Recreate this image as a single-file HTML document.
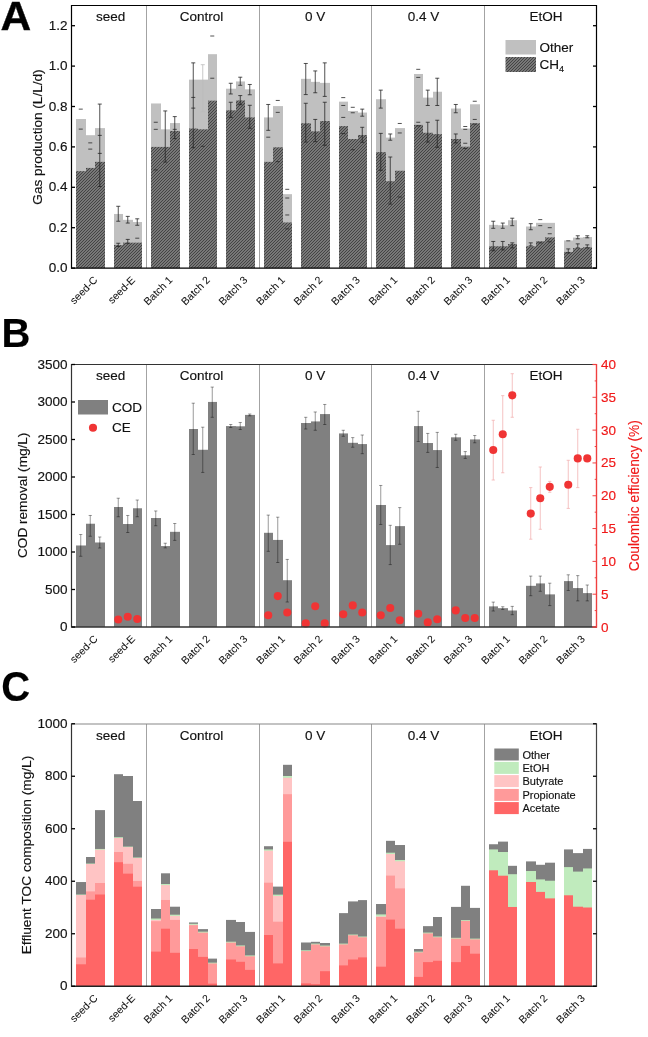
<!DOCTYPE html>
<html><head><meta charset="utf-8"><title>Figure</title><style>html,body{margin:0;padding:0;background:#fff;width:648px;height:1037px;overflow:hidden}svg{display:block;will-change:transform} text{stroke:currentColor}</style></head><body>
<svg width="648" height="1037" viewBox="0 0 648 1037">
<defs><pattern id="hatch" patternUnits="userSpaceOnUse" x="0" y="0" width="3" height="3"><rect width="3" height="3" fill="#787878"/><rect x="0" y="2" width="1" height="1" fill="#444444"/><rect x="1" y="1" width="1" height="1" fill="#444444"/><rect x="2" y="0" width="1" height="1" fill="#444444"/></pattern></defs>
<rect width="648" height="1037" fill="#fff"/>
<g font-family='"Liberation Sans", sans-serif' fill="#111" color="#111" stroke-width="0.15">
<text transform="translate(0.5 29.6) scale(1.063 1.032)" x="0" y="0" font-size="40" font-weight="bold" fill="#000" stroke="#000" stroke-width="0.4">A</text>
<line x1="146.5" y1="5.5" x2="146.5" y2="268.1" stroke="#999" stroke-width="0.9"/>
<line x1="259.5" y1="5.5" x2="259.5" y2="268.1" stroke="#999" stroke-width="0.9"/>
<line x1="371.5" y1="5.5" x2="371.5" y2="268.1" stroke="#999" stroke-width="0.9"/>
<line x1="484.5" y1="5.5" x2="484.5" y2="268.1" stroke="#999" stroke-width="0.9"/>
<rect x="76" y="119.02" width="10" height="149.08" fill="#c0c0c0"/>
<rect x="76" y="171.14" width="10" height="96.96" fill="url(#hatch)"/>
<rect x="86" y="135.18" width="9" height="132.92" fill="#c0c0c0"/>
<rect x="86" y="167.91" width="9" height="100.19" fill="url(#hatch)"/>
<rect x="95" y="128.11" width="10" height="139.99" fill="#c0c0c0"/>
<rect x="95" y="161.85" width="10" height="106.25" fill="url(#hatch)"/>
<rect x="114" y="213.96" width="9" height="54.14" fill="#c0c0c0"/>
<rect x="114" y="245.07" width="9" height="23.03" fill="url(#hatch)"/>
<rect x="123" y="219.82" width="10" height="48.28" fill="#c0c0c0"/>
<rect x="123" y="242.65" width="10" height="25.45" fill="url(#hatch)"/>
<rect x="133" y="222.04" width="9" height="46.06" fill="#c0c0c0"/>
<rect x="133" y="242.65" width="9" height="25.45" fill="url(#hatch)"/>
<rect x="151" y="103.47" width="10" height="164.63" fill="#c0c0c0"/>
<rect x="151" y="146.9" width="10" height="121.2" fill="url(#hatch)"/>
<rect x="161" y="129.33" width="9" height="138.77" fill="#c0c0c0"/>
<rect x="161" y="146.9" width="9" height="121.2" fill="url(#hatch)"/>
<rect x="170" y="123.06" width="10" height="145.04" fill="#c0c0c0"/>
<rect x="170" y="130.94" width="10" height="137.16" fill="url(#hatch)"/>
<rect x="189" y="79.63" width="9" height="188.47" fill="#c0c0c0"/>
<rect x="189" y="128.52" width="9" height="139.58" fill="url(#hatch)"/>
<rect x="198" y="79.63" width="10" height="188.47" fill="#c0c0c0"/>
<rect x="198" y="129.33" width="10" height="138.77" fill="url(#hatch)"/>
<rect x="208" y="54.18" width="9" height="213.92" fill="#c0c0c0"/>
<rect x="208" y="100.64" width="9" height="167.46" fill="url(#hatch)"/>
<rect x="226" y="88.72" width="10" height="179.38" fill="#c0c0c0"/>
<rect x="226" y="110.34" width="10" height="157.76" fill="url(#hatch)"/>
<rect x="236" y="81.45" width="9" height="186.65" fill="#c0c0c0"/>
<rect x="236" y="100.44" width="9" height="167.66" fill="url(#hatch)"/>
<rect x="245" y="89.33" width="10" height="178.77" fill="#c0c0c0"/>
<rect x="245" y="117.41" width="10" height="150.69" fill="url(#hatch)"/>
<rect x="264" y="117.41" width="9" height="150.69" fill="#c0c0c0"/>
<rect x="264" y="161.85" width="9" height="106.25" fill="url(#hatch)"/>
<rect x="273" y="106.1" width="10" height="162" fill="#c0c0c0"/>
<rect x="273" y="147.3" width="10" height="120.8" fill="url(#hatch)"/>
<rect x="283" y="194.17" width="9" height="73.93" fill="#c0c0c0"/>
<rect x="283" y="222.45" width="9" height="45.65" fill="url(#hatch)"/>
<rect x="301" y="78.83" width="10" height="189.27" fill="#c0c0c0"/>
<rect x="301" y="123.27" width="10" height="144.83" fill="url(#hatch)"/>
<rect x="311" y="81.86" width="9" height="186.24" fill="#c0c0c0"/>
<rect x="311" y="131.35" width="9" height="136.75" fill="url(#hatch)"/>
<rect x="320" y="82.87" width="10" height="185.23" fill="#c0c0c0"/>
<rect x="320" y="121.04" width="10" height="147.06" fill="url(#hatch)"/>
<rect x="339" y="101.65" width="9" height="166.45" fill="#c0c0c0"/>
<rect x="339" y="126.09" width="9" height="142.01" fill="url(#hatch)"/>
<rect x="348" y="110.94" width="10" height="157.16" fill="#c0c0c0"/>
<rect x="348" y="139.02" width="10" height="129.08" fill="url(#hatch)"/>
<rect x="358" y="112.56" width="9" height="155.54" fill="#c0c0c0"/>
<rect x="358" y="134.98" width="9" height="133.12" fill="url(#hatch)"/>
<rect x="376" y="99.23" width="10" height="168.87" fill="#c0c0c0"/>
<rect x="376" y="152.15" width="10" height="115.95" fill="url(#hatch)"/>
<rect x="386" y="137.61" width="9" height="130.49" fill="#c0c0c0"/>
<rect x="386" y="181.24" width="9" height="86.86" fill="url(#hatch)"/>
<rect x="395" y="128.11" width="10" height="139.99" fill="#c0c0c0"/>
<rect x="395" y="170.74" width="10" height="97.36" fill="url(#hatch)"/>
<rect x="414" y="73.98" width="9" height="194.12" fill="#c0c0c0"/>
<rect x="414" y="124.88" width="9" height="143.22" fill="url(#hatch)"/>
<rect x="423" y="97.61" width="10" height="170.49" fill="#c0c0c0"/>
<rect x="423" y="132.76" width="10" height="135.34" fill="url(#hatch)"/>
<rect x="433" y="91.75" width="9" height="176.35" fill="#c0c0c0"/>
<rect x="433" y="134.17" width="9" height="133.93" fill="url(#hatch)"/>
<rect x="451" y="108.52" width="10" height="159.58" fill="#c0c0c0"/>
<rect x="451" y="139.02" width="10" height="129.08" fill="url(#hatch)"/>
<rect x="461" y="128.52" width="9" height="139.58" fill="#c0c0c0"/>
<rect x="461" y="146.7" width="9" height="121.4" fill="url(#hatch)"/>
<rect x="470" y="104.28" width="10" height="163.82" fill="#c0c0c0"/>
<rect x="470" y="123.27" width="10" height="144.83" fill="url(#hatch)"/>
<rect x="489" y="224.87" width="9" height="43.23" fill="#c0c0c0"/>
<rect x="489" y="246.28" width="9" height="21.82" fill="url(#hatch)"/>
<rect x="498" y="225.28" width="10" height="42.82" fill="#c0c0c0"/>
<rect x="498" y="246.28" width="10" height="21.82" fill="url(#hatch)"/>
<rect x="508" y="220.23" width="9" height="47.87" fill="#c0c0c0"/>
<rect x="508" y="244.06" width="9" height="24.04" fill="url(#hatch)"/>
<rect x="526" y="226.49" width="10" height="41.61" fill="#c0c0c0"/>
<rect x="526" y="246.28" width="10" height="21.82" fill="url(#hatch)"/>
<rect x="536" y="222.85" width="9" height="45.25" fill="#c0c0c0"/>
<rect x="536" y="241.23" width="9" height="26.87" fill="url(#hatch)"/>
<rect x="545" y="222.85" width="10" height="45.25" fill="#c0c0c0"/>
<rect x="545" y="237.4" width="10" height="30.7" fill="url(#hatch)"/>
<rect x="564" y="240.43" width="9" height="27.67" fill="#c0c0c0"/>
<rect x="564" y="251.94" width="9" height="16.16" fill="url(#hatch)"/>
<rect x="573" y="237.6" width="10" height="30.5" fill="#c0c0c0"/>
<rect x="573" y="248.1" width="10" height="20" fill="url(#hatch)"/>
<rect x="583" y="236.99" width="9" height="31.11" fill="#c0c0c0"/>
<rect x="583" y="247.29" width="9" height="20.81" fill="url(#hatch)"/>
<line x1="78.75" y1="109.13" x2="82.75" y2="109.13" stroke="#262626" stroke-width="0.8"/>
<line x1="78.75" y1="129.12" x2="82.75" y2="129.12" stroke="#262626" stroke-width="0.8"/>
<line x1="88.25" y1="142.86" x2="92.25" y2="142.86" stroke="#262626" stroke-width="0.8"/>
<line x1="88.25" y1="149.12" x2="92.25" y2="149.12" stroke="#262626" stroke-width="0.8"/>
<line x1="99.75" y1="104.08" x2="99.75" y2="186.49" stroke="#262626" stroke-width="0.8"/>
<line x1="97.75" y1="104.08" x2="101.75" y2="104.08" stroke="#262626" stroke-width="0.8"/>
<line x1="97.75" y1="186.49" x2="101.75" y2="186.49" stroke="#262626" stroke-width="0.8"/>
<line x1="97.75" y1="135.39" x2="101.75" y2="135.39" stroke="#262626" stroke-width="0.8"/>
<line x1="97.75" y1="153.36" x2="101.75" y2="153.36" stroke="#262626" stroke-width="0.8"/>
<line x1="118.25" y1="206.29" x2="118.25" y2="221.24" stroke="#262626" stroke-width="0.8"/>
<line x1="116.25" y1="206.29" x2="120.25" y2="206.29" stroke="#262626" stroke-width="0.8"/>
<line x1="116.25" y1="221.24" x2="120.25" y2="221.24" stroke="#262626" stroke-width="0.8"/>
<line x1="118.25" y1="243.25" x2="118.25" y2="246.49" stroke="#262626" stroke-width="0.8"/>
<line x1="116.25" y1="243.25" x2="120.25" y2="243.25" stroke="#262626" stroke-width="0.8"/>
<line x1="116.25" y1="246.49" x2="120.25" y2="246.49" stroke="#262626" stroke-width="0.8"/>
<line x1="127.75" y1="216.39" x2="127.75" y2="223.05" stroke="#262626" stroke-width="0.8"/>
<line x1="125.75" y1="216.39" x2="129.75" y2="216.39" stroke="#262626" stroke-width="0.8"/>
<line x1="125.75" y1="223.05" x2="129.75" y2="223.05" stroke="#262626" stroke-width="0.8"/>
<line x1="127.75" y1="239.42" x2="127.75" y2="243.25" stroke="#262626" stroke-width="0.8"/>
<line x1="125.75" y1="239.42" x2="129.75" y2="239.42" stroke="#262626" stroke-width="0.8"/>
<line x1="125.75" y1="243.25" x2="129.75" y2="243.25" stroke="#262626" stroke-width="0.8"/>
<line x1="137.25" y1="218.81" x2="137.25" y2="225.28" stroke="#262626" stroke-width="0.8"/>
<line x1="135.25" y1="218.81" x2="139.25" y2="218.81" stroke="#262626" stroke-width="0.8"/>
<line x1="135.25" y1="225.28" x2="139.25" y2="225.28" stroke="#262626" stroke-width="0.8"/>
<line x1="135.25" y1="238.2" x2="139.25" y2="238.2" stroke="#262626" stroke-width="0.8"/>
<line x1="153.75" y1="122.26" x2="157.75" y2="122.26" stroke="#262626" stroke-width="0.8"/>
<line x1="153.75" y1="129.33" x2="157.75" y2="129.33" stroke="#262626" stroke-width="0.8"/>
<line x1="153.75" y1="169.93" x2="157.75" y2="169.93" stroke="#262626" stroke-width="0.8"/>
<line x1="165.25" y1="110.94" x2="165.25" y2="162.05" stroke="#262626" stroke-width="0.8"/>
<line x1="163.25" y1="110.94" x2="167.25" y2="110.94" stroke="#262626" stroke-width="0.8"/>
<line x1="163.25" y1="162.05" x2="167.25" y2="162.05" stroke="#262626" stroke-width="0.8"/>
<line x1="174.75" y1="116.6" x2="174.75" y2="138.62" stroke="#262626" stroke-width="0.8"/>
<line x1="172.75" y1="116.6" x2="176.75" y2="116.6" stroke="#262626" stroke-width="0.8"/>
<line x1="172.75" y1="138.62" x2="176.75" y2="138.62" stroke="#262626" stroke-width="0.8"/>
<line x1="172.75" y1="129.33" x2="176.75" y2="129.33" stroke="#262626" stroke-width="0.8"/>
<line x1="193.25" y1="62.87" x2="193.25" y2="147.71" stroke="#262626" stroke-width="0.8"/>
<line x1="191.25" y1="62.87" x2="195.25" y2="62.87" stroke="#262626" stroke-width="0.8"/>
<line x1="191.25" y1="147.71" x2="195.25" y2="147.71" stroke="#262626" stroke-width="0.8"/>
<line x1="191.25" y1="97.41" x2="195.25" y2="97.41" stroke="#262626" stroke-width="0.8"/>
<line x1="191.25" y1="108.12" x2="195.25" y2="108.12" stroke="#262626" stroke-width="0.8"/>
<line x1="202.75" y1="64.69" x2="202.75" y2="111.55" stroke="#bbb" stroke-width="0.8"/>
<line x1="200.75" y1="64.69" x2="204.75" y2="64.69" stroke="#bbb" stroke-width="0.8"/>
<line x1="200.75" y1="111.55" x2="204.75" y2="111.55" stroke="#bbb" stroke-width="0.8"/>
<line x1="200.75" y1="146.29" x2="204.75" y2="146.29" stroke="#262626" stroke-width="0.8"/>
<line x1="210.25" y1="36" x2="214.25" y2="36" stroke="#262626" stroke-width="0.8"/>
<line x1="210.25" y1="78.22" x2="214.25" y2="78.22" stroke="#262626" stroke-width="0.8"/>
<line x1="230.75" y1="83.27" x2="230.75" y2="93.98" stroke="#262626" stroke-width="0.8"/>
<line x1="228.75" y1="83.27" x2="232.75" y2="83.27" stroke="#262626" stroke-width="0.8"/>
<line x1="228.75" y1="93.98" x2="232.75" y2="93.98" stroke="#262626" stroke-width="0.8"/>
<line x1="230.75" y1="102.26" x2="230.75" y2="117.41" stroke="#262626" stroke-width="0.8"/>
<line x1="228.75" y1="102.26" x2="232.75" y2="102.26" stroke="#262626" stroke-width="0.8"/>
<line x1="228.75" y1="117.41" x2="232.75" y2="117.41" stroke="#262626" stroke-width="0.8"/>
<line x1="240.25" y1="77.21" x2="240.25" y2="85.29" stroke="#262626" stroke-width="0.8"/>
<line x1="238.25" y1="77.21" x2="242.25" y2="77.21" stroke="#262626" stroke-width="0.8"/>
<line x1="238.25" y1="85.29" x2="242.25" y2="85.29" stroke="#262626" stroke-width="0.8"/>
<line x1="240.25" y1="95.59" x2="240.25" y2="104.68" stroke="#262626" stroke-width="0.8"/>
<line x1="238.25" y1="95.59" x2="242.25" y2="95.59" stroke="#262626" stroke-width="0.8"/>
<line x1="238.25" y1="104.68" x2="242.25" y2="104.68" stroke="#262626" stroke-width="0.8"/>
<line x1="249.75" y1="84.48" x2="249.75" y2="94.78" stroke="#262626" stroke-width="0.8"/>
<line x1="247.75" y1="84.48" x2="251.75" y2="84.48" stroke="#262626" stroke-width="0.8"/>
<line x1="247.75" y1="94.78" x2="251.75" y2="94.78" stroke="#262626" stroke-width="0.8"/>
<line x1="249.75" y1="105.29" x2="249.75" y2="128.32" stroke="#262626" stroke-width="0.8"/>
<line x1="247.75" y1="105.29" x2="251.75" y2="105.29" stroke="#262626" stroke-width="0.8"/>
<line x1="247.75" y1="128.32" x2="251.75" y2="128.32" stroke="#262626" stroke-width="0.8"/>
<line x1="268.25" y1="104.48" x2="268.25" y2="130.34" stroke="#262626" stroke-width="0.8"/>
<line x1="266.25" y1="104.48" x2="270.25" y2="104.48" stroke="#262626" stroke-width="0.8"/>
<line x1="266.25" y1="130.34" x2="270.25" y2="130.34" stroke="#262626" stroke-width="0.8"/>
<line x1="266.25" y1="137.2" x2="270.25" y2="137.2" stroke="#262626" stroke-width="0.8"/>
<line x1="275.75" y1="100.44" x2="279.75" y2="100.44" stroke="#262626" stroke-width="0.8"/>
<line x1="275.75" y1="112.36" x2="279.75" y2="112.36" stroke="#262626" stroke-width="0.8"/>
<line x1="275.75" y1="161.65" x2="279.75" y2="161.65" stroke="#262626" stroke-width="0.8"/>
<line x1="285.25" y1="189.32" x2="289.25" y2="189.32" stroke="#262626" stroke-width="0.8"/>
<line x1="285.25" y1="198.01" x2="289.25" y2="198.01" stroke="#262626" stroke-width="0.8"/>
<line x1="285.25" y1="214.97" x2="289.25" y2="214.97" stroke="#262626" stroke-width="0.8"/>
<line x1="285.25" y1="228.91" x2="289.25" y2="228.91" stroke="#262626" stroke-width="0.8"/>
<line x1="305.75" y1="63.47" x2="305.75" y2="94.58" stroke="#262626" stroke-width="0.8"/>
<line x1="303.75" y1="63.47" x2="307.75" y2="63.47" stroke="#262626" stroke-width="0.8"/>
<line x1="303.75" y1="94.58" x2="307.75" y2="94.58" stroke="#262626" stroke-width="0.8"/>
<line x1="305.75" y1="103.27" x2="305.75" y2="142.05" stroke="#262626" stroke-width="0.8"/>
<line x1="303.75" y1="103.27" x2="307.75" y2="103.27" stroke="#262626" stroke-width="0.8"/>
<line x1="303.75" y1="142.05" x2="307.75" y2="142.05" stroke="#262626" stroke-width="0.8"/>
<line x1="315.25" y1="70.95" x2="315.25" y2="92.76" stroke="#262626" stroke-width="0.8"/>
<line x1="313.25" y1="70.95" x2="317.25" y2="70.95" stroke="#262626" stroke-width="0.8"/>
<line x1="313.25" y1="92.76" x2="317.25" y2="92.76" stroke="#262626" stroke-width="0.8"/>
<line x1="315.25" y1="119.43" x2="315.25" y2="141.65" stroke="#262626" stroke-width="0.8"/>
<line x1="313.25" y1="119.43" x2="317.25" y2="119.43" stroke="#262626" stroke-width="0.8"/>
<line x1="313.25" y1="141.65" x2="317.25" y2="141.65" stroke="#262626" stroke-width="0.8"/>
<line x1="324.75" y1="62.87" x2="324.75" y2="96.4" stroke="#262626" stroke-width="0.8"/>
<line x1="322.75" y1="62.87" x2="326.75" y2="62.87" stroke="#262626" stroke-width="0.8"/>
<line x1="322.75" y1="96.4" x2="326.75" y2="96.4" stroke="#262626" stroke-width="0.8"/>
<line x1="324.75" y1="102.26" x2="324.75" y2="145.28" stroke="#262626" stroke-width="0.8"/>
<line x1="322.75" y1="102.26" x2="326.75" y2="102.26" stroke="#262626" stroke-width="0.8"/>
<line x1="322.75" y1="145.28" x2="326.75" y2="145.28" stroke="#262626" stroke-width="0.8"/>
<line x1="341.25" y1="97.61" x2="345.25" y2="97.61" stroke="#262626" stroke-width="0.8"/>
<line x1="341.25" y1="105.49" x2="345.25" y2="105.49" stroke="#262626" stroke-width="0.8"/>
<line x1="341.25" y1="117.41" x2="345.25" y2="117.41" stroke="#262626" stroke-width="0.8"/>
<line x1="341.25" y1="133.57" x2="345.25" y2="133.57" stroke="#262626" stroke-width="0.8"/>
<line x1="350.75" y1="107.31" x2="354.75" y2="107.31" stroke="#262626" stroke-width="0.8"/>
<line x1="350.75" y1="112.76" x2="354.75" y2="112.76" stroke="#262626" stroke-width="0.8"/>
<line x1="350.75" y1="149.73" x2="354.75" y2="149.73" stroke="#262626" stroke-width="0.8"/>
<line x1="362.25" y1="109.13" x2="362.25" y2="116.2" stroke="#262626" stroke-width="0.8"/>
<line x1="360.25" y1="109.13" x2="364.25" y2="109.13" stroke="#262626" stroke-width="0.8"/>
<line x1="360.25" y1="116.2" x2="364.25" y2="116.2" stroke="#262626" stroke-width="0.8"/>
<line x1="362.25" y1="127.31" x2="362.25" y2="142.25" stroke="#262626" stroke-width="0.8"/>
<line x1="360.25" y1="127.31" x2="364.25" y2="127.31" stroke="#262626" stroke-width="0.8"/>
<line x1="360.25" y1="142.25" x2="364.25" y2="142.25" stroke="#262626" stroke-width="0.8"/>
<line x1="380.75" y1="90.14" x2="380.75" y2="108.12" stroke="#262626" stroke-width="0.8"/>
<line x1="378.75" y1="90.14" x2="382.75" y2="90.14" stroke="#262626" stroke-width="0.8"/>
<line x1="378.75" y1="108.12" x2="382.75" y2="108.12" stroke="#262626" stroke-width="0.8"/>
<line x1="380.75" y1="133.37" x2="380.75" y2="170.33" stroke="#262626" stroke-width="0.8"/>
<line x1="378.75" y1="133.37" x2="382.75" y2="133.37" stroke="#262626" stroke-width="0.8"/>
<line x1="378.75" y1="170.33" x2="382.75" y2="170.33" stroke="#262626" stroke-width="0.8"/>
<line x1="390.25" y1="133.97" x2="390.25" y2="140.23" stroke="#262626" stroke-width="0.8"/>
<line x1="388.25" y1="133.97" x2="392.25" y2="133.97" stroke="#262626" stroke-width="0.8"/>
<line x1="388.25" y1="140.23" x2="392.25" y2="140.23" stroke="#262626" stroke-width="0.8"/>
<line x1="390.25" y1="157" x2="390.25" y2="204.07" stroke="#262626" stroke-width="0.8"/>
<line x1="388.25" y1="157" x2="392.25" y2="157" stroke="#262626" stroke-width="0.8"/>
<line x1="388.25" y1="204.07" x2="392.25" y2="204.07" stroke="#262626" stroke-width="0.8"/>
<line x1="397.75" y1="123.47" x2="401.75" y2="123.47" stroke="#262626" stroke-width="0.8"/>
<line x1="397.75" y1="132.96" x2="401.75" y2="132.96" stroke="#262626" stroke-width="0.8"/>
<line x1="397.75" y1="197" x2="401.75" y2="197" stroke="#262626" stroke-width="0.8"/>
<line x1="416.25" y1="69.33" x2="420.25" y2="69.33" stroke="#262626" stroke-width="0.8"/>
<line x1="416.25" y1="77.41" x2="420.25" y2="77.41" stroke="#262626" stroke-width="0.8"/>
<line x1="416.25" y1="122.26" x2="420.25" y2="122.26" stroke="#262626" stroke-width="0.8"/>
<line x1="416.25" y1="125.89" x2="420.25" y2="125.89" stroke="#262626" stroke-width="0.8"/>
<line x1="427.75" y1="90.14" x2="427.75" y2="105.49" stroke="#262626" stroke-width="0.8"/>
<line x1="425.75" y1="90.14" x2="429.75" y2="90.14" stroke="#262626" stroke-width="0.8"/>
<line x1="425.75" y1="105.49" x2="429.75" y2="105.49" stroke="#262626" stroke-width="0.8"/>
<line x1="427.75" y1="122.26" x2="427.75" y2="142.05" stroke="#262626" stroke-width="0.8"/>
<line x1="425.75" y1="122.26" x2="429.75" y2="122.26" stroke="#262626" stroke-width="0.8"/>
<line x1="425.75" y1="142.05" x2="429.75" y2="142.05" stroke="#262626" stroke-width="0.8"/>
<line x1="437.25" y1="78.22" x2="437.25" y2="105.49" stroke="#262626" stroke-width="0.8"/>
<line x1="435.25" y1="78.22" x2="439.25" y2="78.22" stroke="#262626" stroke-width="0.8"/>
<line x1="435.25" y1="105.49" x2="439.25" y2="105.49" stroke="#262626" stroke-width="0.8"/>
<line x1="437.25" y1="120.24" x2="437.25" y2="147.3" stroke="#262626" stroke-width="0.8"/>
<line x1="435.25" y1="120.24" x2="439.25" y2="120.24" stroke="#262626" stroke-width="0.8"/>
<line x1="435.25" y1="147.3" x2="439.25" y2="147.3" stroke="#262626" stroke-width="0.8"/>
<line x1="455.75" y1="104.48" x2="455.75" y2="112.76" stroke="#262626" stroke-width="0.8"/>
<line x1="453.75" y1="104.48" x2="457.75" y2="104.48" stroke="#262626" stroke-width="0.8"/>
<line x1="453.75" y1="112.76" x2="457.75" y2="112.76" stroke="#262626" stroke-width="0.8"/>
<line x1="455.75" y1="133.97" x2="455.75" y2="142.86" stroke="#262626" stroke-width="0.8"/>
<line x1="453.75" y1="133.97" x2="457.75" y2="133.97" stroke="#262626" stroke-width="0.8"/>
<line x1="453.75" y1="142.86" x2="457.75" y2="142.86" stroke="#262626" stroke-width="0.8"/>
<line x1="463.25" y1="126.5" x2="467.25" y2="126.5" stroke="#262626" stroke-width="0.8"/>
<line x1="463.25" y1="129.33" x2="467.25" y2="129.33" stroke="#262626" stroke-width="0.8"/>
<line x1="463.25" y1="143.26" x2="467.25" y2="143.26" stroke="#262626" stroke-width="0.8"/>
<line x1="463.25" y1="148.52" x2="467.25" y2="148.52" stroke="#262626" stroke-width="0.8"/>
<line x1="472.75" y1="101.25" x2="476.75" y2="101.25" stroke="#262626" stroke-width="0.8"/>
<line x1="472.75" y1="119.43" x2="476.75" y2="119.43" stroke="#262626" stroke-width="0.8"/>
<line x1="472.75" y1="124.07" x2="476.75" y2="124.07" stroke="#262626" stroke-width="0.8"/>
<line x1="493.25" y1="221.24" x2="493.25" y2="228.31" stroke="#262626" stroke-width="0.8"/>
<line x1="491.25" y1="221.24" x2="495.25" y2="221.24" stroke="#262626" stroke-width="0.8"/>
<line x1="491.25" y1="228.31" x2="495.25" y2="228.31" stroke="#262626" stroke-width="0.8"/>
<line x1="493.25" y1="241.44" x2="493.25" y2="250.73" stroke="#262626" stroke-width="0.8"/>
<line x1="491.25" y1="241.44" x2="495.25" y2="241.44" stroke="#262626" stroke-width="0.8"/>
<line x1="491.25" y1="250.73" x2="495.25" y2="250.73" stroke="#262626" stroke-width="0.8"/>
<line x1="502.75" y1="223.05" x2="502.75" y2="228.31" stroke="#262626" stroke-width="0.8"/>
<line x1="500.75" y1="223.05" x2="504.75" y2="223.05" stroke="#262626" stroke-width="0.8"/>
<line x1="500.75" y1="228.31" x2="504.75" y2="228.31" stroke="#262626" stroke-width="0.8"/>
<line x1="502.75" y1="241.44" x2="502.75" y2="249.92" stroke="#262626" stroke-width="0.8"/>
<line x1="500.75" y1="241.44" x2="504.75" y2="241.44" stroke="#262626" stroke-width="0.8"/>
<line x1="500.75" y1="249.92" x2="504.75" y2="249.92" stroke="#262626" stroke-width="0.8"/>
<line x1="512.25" y1="218.21" x2="512.25" y2="225.68" stroke="#262626" stroke-width="0.8"/>
<line x1="510.25" y1="218.21" x2="514.25" y2="218.21" stroke="#262626" stroke-width="0.8"/>
<line x1="510.25" y1="225.68" x2="514.25" y2="225.68" stroke="#262626" stroke-width="0.8"/>
<line x1="512.25" y1="242.85" x2="512.25" y2="247.9" stroke="#262626" stroke-width="0.8"/>
<line x1="510.25" y1="242.85" x2="514.25" y2="242.85" stroke="#262626" stroke-width="0.8"/>
<line x1="510.25" y1="247.9" x2="514.25" y2="247.9" stroke="#262626" stroke-width="0.8"/>
<line x1="530.75" y1="223.66" x2="530.75" y2="229.72" stroke="#262626" stroke-width="0.8"/>
<line x1="528.75" y1="223.66" x2="532.75" y2="223.66" stroke="#262626" stroke-width="0.8"/>
<line x1="528.75" y1="229.72" x2="532.75" y2="229.72" stroke="#262626" stroke-width="0.8"/>
<line x1="530.75" y1="242.85" x2="530.75" y2="245.88" stroke="#262626" stroke-width="0.8"/>
<line x1="528.75" y1="242.85" x2="532.75" y2="242.85" stroke="#262626" stroke-width="0.8"/>
<line x1="528.75" y1="245.88" x2="532.75" y2="245.88" stroke="#262626" stroke-width="0.8"/>
<line x1="538.25" y1="219.62" x2="542.25" y2="219.62" stroke="#262626" stroke-width="0.8"/>
<line x1="538.25" y1="225.68" x2="542.25" y2="225.68" stroke="#262626" stroke-width="0.8"/>
<line x1="538.25" y1="242.85" x2="542.25" y2="242.85" stroke="#262626" stroke-width="0.8"/>
<line x1="547.75" y1="227.7" x2="551.75" y2="227.7" stroke="#262626" stroke-width="0.8"/>
<line x1="547.75" y1="233.76" x2="551.75" y2="233.76" stroke="#262626" stroke-width="0.8"/>
<line x1="547.75" y1="241.84" x2="551.75" y2="241.84" stroke="#262626" stroke-width="0.8"/>
<line x1="566.25" y1="240.83" x2="570.25" y2="240.83" stroke="#262626" stroke-width="0.8"/>
<line x1="568.25" y1="248.91" x2="568.25" y2="252.95" stroke="#262626" stroke-width="0.8"/>
<line x1="566.25" y1="248.91" x2="570.25" y2="248.91" stroke="#262626" stroke-width="0.8"/>
<line x1="566.25" y1="252.95" x2="570.25" y2="252.95" stroke="#262626" stroke-width="0.8"/>
<line x1="577.75" y1="235.78" x2="577.75" y2="238.81" stroke="#262626" stroke-width="0.8"/>
<line x1="575.75" y1="235.78" x2="579.75" y2="235.78" stroke="#262626" stroke-width="0.8"/>
<line x1="575.75" y1="238.81" x2="579.75" y2="238.81" stroke="#262626" stroke-width="0.8"/>
<line x1="577.75" y1="243.86" x2="577.75" y2="247.9" stroke="#262626" stroke-width="0.8"/>
<line x1="575.75" y1="243.86" x2="579.75" y2="243.86" stroke="#262626" stroke-width="0.8"/>
<line x1="575.75" y1="247.9" x2="579.75" y2="247.9" stroke="#262626" stroke-width="0.8"/>
<line x1="587.25" y1="235.78" x2="587.25" y2="237.8" stroke="#262626" stroke-width="0.8"/>
<line x1="585.25" y1="235.78" x2="589.25" y2="235.78" stroke="#262626" stroke-width="0.8"/>
<line x1="585.25" y1="237.8" x2="589.25" y2="237.8" stroke="#262626" stroke-width="0.8"/>
<line x1="587.25" y1="244.87" x2="587.25" y2="247.9" stroke="#262626" stroke-width="0.8"/>
<line x1="585.25" y1="244.87" x2="589.25" y2="244.87" stroke="#262626" stroke-width="0.8"/>
<line x1="585.25" y1="247.9" x2="589.25" y2="247.9" stroke="#262626" stroke-width="0.8"/>
<line x1="71.5" y1="5.5" x2="596.5" y2="5.5" stroke="#000" stroke-width="1.2"/>
<line x1="596.5" y1="4.9" x2="596.5" y2="268.70000000000005" stroke="#000" stroke-width="1.2"/>
<line x1="71.5" y1="4.9" x2="71.5" y2="268.70000000000005" stroke="#000" stroke-width="1.2"/>
<line x1="71.5" y1="268.1" x2="596.5" y2="268.1" stroke="#000" stroke-width="1.4"/>
<line x1="71.5" y1="268.1" x2="75.0" y2="268.1" stroke="#000" stroke-width="1.3"/>
<line x1="593.0" y1="268.1" x2="596.5" y2="268.1" stroke="#000" stroke-width="1.3"/>
<text x="67.6" y="272.1" text-anchor="end" font-size="13.5">0.0</text>
<line x1="71.5" y1="227.7" x2="75.0" y2="227.7" stroke="#000" stroke-width="1.3"/>
<line x1="593.0" y1="227.7" x2="596.5" y2="227.7" stroke="#000" stroke-width="1.3"/>
<text x="67.6" y="231.7" text-anchor="end" font-size="13.5">0.2</text>
<line x1="71.5" y1="187.3" x2="75.0" y2="187.3" stroke="#000" stroke-width="1.3"/>
<line x1="593.0" y1="187.3" x2="596.5" y2="187.3" stroke="#000" stroke-width="1.3"/>
<text x="67.6" y="191.3" text-anchor="end" font-size="13.5">0.4</text>
<line x1="71.5" y1="146.9" x2="75.0" y2="146.9" stroke="#000" stroke-width="1.3"/>
<line x1="593.0" y1="146.9" x2="596.5" y2="146.9" stroke="#000" stroke-width="1.3"/>
<text x="67.6" y="150.9" text-anchor="end" font-size="13.5">0.6</text>
<line x1="71.5" y1="106.5" x2="75.0" y2="106.5" stroke="#000" stroke-width="1.3"/>
<line x1="593.0" y1="106.5" x2="596.5" y2="106.5" stroke="#000" stroke-width="1.3"/>
<text x="67.6" y="110.5" text-anchor="end" font-size="13.5">0.8</text>
<line x1="71.5" y1="66.1" x2="75.0" y2="66.1" stroke="#000" stroke-width="1.3"/>
<line x1="593.0" y1="66.1" x2="596.5" y2="66.1" stroke="#000" stroke-width="1.3"/>
<text x="67.6" y="70.1" text-anchor="end" font-size="13.5">1.0</text>
<line x1="71.5" y1="25.7" x2="75.0" y2="25.7" stroke="#000" stroke-width="1.3"/>
<line x1="593.0" y1="25.7" x2="596.5" y2="25.7" stroke="#000" stroke-width="1.3"/>
<text x="67.6" y="29.7" text-anchor="end" font-size="13.5">1.2</text>
<text x="110.6" y="21.1" text-anchor="middle" font-size="13.5">seed</text>
<text x="201.6" y="21.1" text-anchor="middle" font-size="13.5">Control</text>
<text x="315.1" y="21.1" text-anchor="middle" font-size="13.5">0 V</text>
<text x="423.6" y="21.1" text-anchor="middle" font-size="13.5">0.4 V</text>
<text x="546.1" y="21.1" text-anchor="middle" font-size="13.5">EtOH</text>
<text x="98.25" y="280.7" text-anchor="end" font-size="10.5" stroke-width="0.05" transform="rotate(-45 98.25 280.7)">seed-C</text>
<text x="135.75" y="280.7" text-anchor="end" font-size="10.5" stroke-width="0.05" transform="rotate(-45 135.75 280.7)">seed-E</text>
<text x="173.25" y="280.7" text-anchor="end" font-size="10.5" stroke-width="0.05" transform="rotate(-45 173.25 280.7)">Batch 1</text>
<text x="210.75" y="280.7" text-anchor="end" font-size="10.5" stroke-width="0.05" transform="rotate(-45 210.75 280.7)">Batch 2</text>
<text x="248.25" y="280.7" text-anchor="end" font-size="10.5" stroke-width="0.05" transform="rotate(-45 248.25 280.7)">Batch 3</text>
<text x="285.75" y="280.7" text-anchor="end" font-size="10.5" stroke-width="0.05" transform="rotate(-45 285.75 280.7)">Batch 1</text>
<text x="323.25" y="280.7" text-anchor="end" font-size="10.5" stroke-width="0.05" transform="rotate(-45 323.25 280.7)">Batch 2</text>
<text x="360.75" y="280.7" text-anchor="end" font-size="10.5" stroke-width="0.05" transform="rotate(-45 360.75 280.7)">Batch 3</text>
<text x="398.25" y="280.7" text-anchor="end" font-size="10.5" stroke-width="0.05" transform="rotate(-45 398.25 280.7)">Batch 1</text>
<text x="435.75" y="280.7" text-anchor="end" font-size="10.5" stroke-width="0.05" transform="rotate(-45 435.75 280.7)">Batch 2</text>
<text x="473.25" y="280.7" text-anchor="end" font-size="10.5" stroke-width="0.05" transform="rotate(-45 473.25 280.7)">Batch 3</text>
<text x="510.75" y="280.7" text-anchor="end" font-size="10.5" stroke-width="0.05" transform="rotate(-45 510.75 280.7)">Batch 1</text>
<text x="548.25" y="280.7" text-anchor="end" font-size="10.5" stroke-width="0.05" transform="rotate(-45 548.25 280.7)">Batch 2</text>
<text x="585.75" y="280.7" text-anchor="end" font-size="10.5" stroke-width="0.05" transform="rotate(-45 585.75 280.7)">Batch 3</text>
<text transform="translate(42 137) rotate(-90)" text-anchor="middle" font-size="13.6">Gas production (L/L/d)</text>
<rect x="505.5" y="40" width="30.5" height="14.5" fill="#c0c0c0"/>
<rect x="505.5" y="57" width="30.5" height="15" fill="url(#hatch)"/>
<text x="539.5" y="51.8" font-size="13.5">Other</text>
<text x="539.5" y="69.2" font-size="13.5">CH<tspan font-size="9" dy="3">4</tspan></text>
<text x="1.4" y="347" font-size="40" font-weight="bold" fill="#000">B</text>
<line x1="146.5" y1="364.5" x2="146.5" y2="627.0" stroke="#999" stroke-width="0.9"/>
<line x1="259.5" y1="364.5" x2="259.5" y2="627.0" stroke="#999" stroke-width="0.9"/>
<line x1="371.5" y1="364.5" x2="371.5" y2="627.0" stroke="#999" stroke-width="0.9"/>
<line x1="484.5" y1="364.5" x2="484.5" y2="627.0" stroke="#999" stroke-width="0.9"/>
<rect x="76" y="545.48" width="10" height="81.52" fill="#808080"/>
<rect x="86" y="523.73" width="9" height="103.27" fill="#808080"/>
<rect x="95" y="542.48" width="10" height="84.52" fill="#808080"/>
<rect x="114" y="507" width="9" height="120" fill="#808080"/>
<rect x="123" y="524.02" width="10" height="102.98" fill="#808080"/>
<rect x="133" y="508.27" width="9" height="118.73" fill="#808080"/>
<rect x="151" y="518.02" width="10" height="108.98" fill="#808080"/>
<rect x="161" y="546.08" width="9" height="80.92" fill="#808080"/>
<rect x="170" y="531.83" width="10" height="95.17" fill="#808080"/>
<rect x="189" y="429" width="9" height="198" fill="#808080"/>
<rect x="198" y="449.77" width="10" height="177.23" fill="#808080"/>
<rect x="208" y="401.93" width="9" height="225.07" fill="#808080"/>
<rect x="226" y="426.08" width="10" height="200.92" fill="#808080"/>
<rect x="236" y="426.3" width="9" height="200.7" fill="#808080"/>
<rect x="245" y="414.9" width="10" height="212.1" fill="#808080"/>
<rect x="264" y="532.8" width="9" height="94.2" fill="#808080"/>
<rect x="273" y="539.92" width="10" height="87.08" fill="#808080"/>
<rect x="283" y="580.2" width="9" height="46.8" fill="#808080"/>
<rect x="301" y="423" width="10" height="204" fill="#808080"/>
<rect x="311" y="421.43" width="9" height="205.57" fill="#808080"/>
<rect x="320" y="414.08" width="10" height="212.92" fill="#808080"/>
<rect x="339" y="433.43" width="9" height="193.57" fill="#808080"/>
<rect x="348" y="442.8" width="10" height="184.2" fill="#808080"/>
<rect x="358" y="444.08" width="9" height="182.92" fill="#808080"/>
<rect x="376" y="504.98" width="10" height="122.02" fill="#808080"/>
<rect x="386" y="545.1" width="9" height="81.9" fill="#808080"/>
<rect x="395" y="526.12" width="10" height="100.88" fill="#808080"/>
<rect x="414" y="426.08" width="9" height="200.92" fill="#808080"/>
<rect x="423" y="443.02" width="10" height="183.98" fill="#808080"/>
<rect x="433" y="450.08" width="9" height="176.92" fill="#808080"/>
<rect x="451" y="437.33" width="10" height="189.67" fill="#808080"/>
<rect x="461" y="455.33" width="9" height="171.67" fill="#808080"/>
<rect x="470" y="439.43" width="10" height="187.57" fill="#808080"/>
<rect x="489" y="606.38" width="9" height="20.62" fill="#808080"/>
<rect x="498" y="608.17" width="10" height="18.83" fill="#808080"/>
<rect x="508" y="610.5" width="9" height="16.5" fill="#808080"/>
<rect x="526" y="585.83" width="10" height="41.17" fill="#808080"/>
<rect x="536" y="583.42" width="9" height="43.58" fill="#808080"/>
<rect x="545" y="594.38" width="10" height="32.62" fill="#808080"/>
<rect x="564" y="581.1" width="9" height="45.9" fill="#808080"/>
<rect x="573" y="588.08" width="10" height="38.92" fill="#808080"/>
<rect x="583" y="593.1" width="9" height="33.9" fill="#808080"/>
<line x1="80.75" y1="534.52" x2="80.75" y2="556.27" stroke="#000" stroke-opacity="0.5" stroke-width="0.8"/>
<line x1="79.15" y1="534.52" x2="82.35" y2="534.52" stroke="#000" stroke-opacity="0.5" stroke-width="0.8"/>
<line x1="79.15" y1="556.27" x2="82.35" y2="556.27" stroke="#000" stroke-opacity="0.5" stroke-width="0.8"/>
<line x1="90.25" y1="515.48" x2="90.25" y2="536.25" stroke="#000" stroke-opacity="0.5" stroke-width="0.8"/>
<line x1="88.65" y1="515.48" x2="91.85" y2="515.48" stroke="#000" stroke-opacity="0.5" stroke-width="0.8"/>
<line x1="88.65" y1="536.25" x2="91.85" y2="536.25" stroke="#000" stroke-opacity="0.5" stroke-width="0.8"/>
<line x1="99.75" y1="537" x2="99.75" y2="548.02" stroke="#000" stroke-opacity="0.5" stroke-width="0.8"/>
<line x1="98.15" y1="537" x2="101.35" y2="537" stroke="#000" stroke-opacity="0.5" stroke-width="0.8"/>
<line x1="98.15" y1="548.02" x2="101.35" y2="548.02" stroke="#000" stroke-opacity="0.5" stroke-width="0.8"/>
<line x1="118.25" y1="498.23" x2="118.25" y2="516.75" stroke="#000" stroke-opacity="0.5" stroke-width="0.8"/>
<line x1="116.65" y1="498.23" x2="119.85" y2="498.23" stroke="#000" stroke-opacity="0.5" stroke-width="0.8"/>
<line x1="116.65" y1="516.75" x2="119.85" y2="516.75" stroke="#000" stroke-opacity="0.5" stroke-width="0.8"/>
<line x1="127.75" y1="515.48" x2="127.75" y2="532.5" stroke="#000" stroke-opacity="0.5" stroke-width="0.8"/>
<line x1="126.15" y1="515.48" x2="129.35" y2="515.48" stroke="#000" stroke-opacity="0.5" stroke-width="0.8"/>
<line x1="126.15" y1="532.5" x2="129.35" y2="532.5" stroke="#000" stroke-opacity="0.5" stroke-width="0.8"/>
<line x1="137.25" y1="500.02" x2="137.25" y2="516.75" stroke="#000" stroke-opacity="0.5" stroke-width="0.8"/>
<line x1="135.65" y1="500.02" x2="138.85" y2="500.02" stroke="#000" stroke-opacity="0.5" stroke-width="0.8"/>
<line x1="135.65" y1="516.75" x2="138.85" y2="516.75" stroke="#000" stroke-opacity="0.5" stroke-width="0.8"/>
<line x1="155.75" y1="510.98" x2="155.75" y2="525.75" stroke="#000" stroke-opacity="0.5" stroke-width="0.8"/>
<line x1="154.15" y1="510.98" x2="157.35" y2="510.98" stroke="#000" stroke-opacity="0.5" stroke-width="0.8"/>
<line x1="154.15" y1="525.75" x2="157.35" y2="525.75" stroke="#000" stroke-opacity="0.5" stroke-width="0.8"/>
<line x1="165.25" y1="543.23" x2="165.25" y2="547.88" stroke="#000" stroke-opacity="0.5" stroke-width="0.8"/>
<line x1="163.65" y1="543.23" x2="166.85" y2="543.23" stroke="#000" stroke-opacity="0.5" stroke-width="0.8"/>
<line x1="163.65" y1="547.88" x2="166.85" y2="547.88" stroke="#000" stroke-opacity="0.5" stroke-width="0.8"/>
<line x1="174.75" y1="523.5" x2="174.75" y2="540.38" stroke="#000" stroke-opacity="0.5" stroke-width="0.8"/>
<line x1="173.15" y1="523.5" x2="176.35" y2="523.5" stroke="#000" stroke-opacity="0.5" stroke-width="0.8"/>
<line x1="173.15" y1="540.38" x2="176.35" y2="540.38" stroke="#000" stroke-opacity="0.5" stroke-width="0.8"/>
<line x1="193.25" y1="403.2" x2="193.25" y2="454.5" stroke="#000" stroke-opacity="0.5" stroke-width="0.8"/>
<line x1="191.65" y1="403.2" x2="194.85" y2="403.2" stroke="#000" stroke-opacity="0.5" stroke-width="0.8"/>
<line x1="191.65" y1="454.5" x2="194.85" y2="454.5" stroke="#000" stroke-opacity="0.5" stroke-width="0.8"/>
<line x1="202.75" y1="427.2" x2="202.75" y2="472.43" stroke="#000" stroke-opacity="0.5" stroke-width="0.8"/>
<line x1="201.15" y1="427.2" x2="204.35" y2="427.2" stroke="#000" stroke-opacity="0.5" stroke-width="0.8"/>
<line x1="201.15" y1="472.43" x2="204.35" y2="472.43" stroke="#000" stroke-opacity="0.5" stroke-width="0.8"/>
<line x1="212.25" y1="387.08" x2="212.25" y2="417.3" stroke="#000" stroke-opacity="0.5" stroke-width="0.8"/>
<line x1="210.65" y1="387.08" x2="213.85" y2="387.08" stroke="#000" stroke-opacity="0.5" stroke-width="0.8"/>
<line x1="210.65" y1="417.3" x2="213.85" y2="417.3" stroke="#000" stroke-opacity="0.5" stroke-width="0.8"/>
<line x1="230.75" y1="424.5" x2="230.75" y2="427.5" stroke="#000" stroke-opacity="0.5" stroke-width="0.8"/>
<line x1="229.15" y1="424.5" x2="232.35" y2="424.5" stroke="#000" stroke-opacity="0.5" stroke-width="0.8"/>
<line x1="229.15" y1="427.5" x2="232.35" y2="427.5" stroke="#000" stroke-opacity="0.5" stroke-width="0.8"/>
<line x1="240.25" y1="422.48" x2="240.25" y2="429.52" stroke="#000" stroke-opacity="0.5" stroke-width="0.8"/>
<line x1="238.65" y1="422.48" x2="241.85" y2="422.48" stroke="#000" stroke-opacity="0.5" stroke-width="0.8"/>
<line x1="238.65" y1="429.52" x2="241.85" y2="429.52" stroke="#000" stroke-opacity="0.5" stroke-width="0.8"/>
<line x1="249.75" y1="414" x2="249.75" y2="415.88" stroke="#000" stroke-opacity="0.5" stroke-width="0.8"/>
<line x1="248.15" y1="414" x2="251.35" y2="414" stroke="#000" stroke-opacity="0.5" stroke-width="0.8"/>
<line x1="248.15" y1="415.88" x2="251.35" y2="415.88" stroke="#000" stroke-opacity="0.5" stroke-width="0.8"/>
<line x1="268.25" y1="515.1" x2="268.25" y2="551.33" stroke="#000" stroke-opacity="0.5" stroke-width="0.8"/>
<line x1="266.65" y1="515.1" x2="269.85" y2="515.1" stroke="#000" stroke-opacity="0.5" stroke-width="0.8"/>
<line x1="266.65" y1="551.33" x2="269.85" y2="551.33" stroke="#000" stroke-opacity="0.5" stroke-width="0.8"/>
<line x1="277.75" y1="517.2" x2="277.75" y2="562.5" stroke="#000" stroke-opacity="0.5" stroke-width="0.8"/>
<line x1="276.15" y1="517.2" x2="279.35" y2="517.2" stroke="#000" stroke-opacity="0.5" stroke-width="0.8"/>
<line x1="276.15" y1="562.5" x2="279.35" y2="562.5" stroke="#000" stroke-opacity="0.5" stroke-width="0.8"/>
<line x1="287.25" y1="559.42" x2="287.25" y2="602.02" stroke="#000" stroke-opacity="0.5" stroke-width="0.8"/>
<line x1="285.65" y1="559.42" x2="288.85" y2="559.42" stroke="#000" stroke-opacity="0.5" stroke-width="0.8"/>
<line x1="285.65" y1="602.02" x2="288.85" y2="602.02" stroke="#000" stroke-opacity="0.5" stroke-width="0.8"/>
<line x1="305.75" y1="417.3" x2="305.75" y2="429" stroke="#000" stroke-opacity="0.5" stroke-width="0.8"/>
<line x1="304.15" y1="417.3" x2="307.35" y2="417.3" stroke="#000" stroke-opacity="0.5" stroke-width="0.8"/>
<line x1="304.15" y1="429" x2="307.35" y2="429" stroke="#000" stroke-opacity="0.5" stroke-width="0.8"/>
<line x1="315.25" y1="411.98" x2="315.25" y2="430.27" stroke="#000" stroke-opacity="0.5" stroke-width="0.8"/>
<line x1="313.65" y1="411.98" x2="316.85" y2="411.98" stroke="#000" stroke-opacity="0.5" stroke-width="0.8"/>
<line x1="313.65" y1="430.27" x2="316.85" y2="430.27" stroke="#000" stroke-opacity="0.5" stroke-width="0.8"/>
<line x1="324.75" y1="404.48" x2="324.75" y2="424.5" stroke="#000" stroke-opacity="0.5" stroke-width="0.8"/>
<line x1="323.15" y1="404.48" x2="326.35" y2="404.48" stroke="#000" stroke-opacity="0.5" stroke-width="0.8"/>
<line x1="323.15" y1="424.5" x2="326.35" y2="424.5" stroke="#000" stroke-opacity="0.5" stroke-width="0.8"/>
<line x1="343.25" y1="430.27" x2="343.25" y2="436.27" stroke="#000" stroke-opacity="0.5" stroke-width="0.8"/>
<line x1="341.65" y1="430.27" x2="344.85" y2="430.27" stroke="#000" stroke-opacity="0.5" stroke-width="0.8"/>
<line x1="341.65" y1="436.27" x2="344.85" y2="436.27" stroke="#000" stroke-opacity="0.5" stroke-width="0.8"/>
<line x1="352.75" y1="437.62" x2="352.75" y2="447.23" stroke="#000" stroke-opacity="0.5" stroke-width="0.8"/>
<line x1="351.15" y1="437.62" x2="354.35" y2="437.62" stroke="#000" stroke-opacity="0.5" stroke-width="0.8"/>
<line x1="351.15" y1="447.23" x2="354.35" y2="447.23" stroke="#000" stroke-opacity="0.5" stroke-width="0.8"/>
<line x1="362.25" y1="435" x2="362.25" y2="453.68" stroke="#000" stroke-opacity="0.5" stroke-width="0.8"/>
<line x1="360.65" y1="435" x2="363.85" y2="435" stroke="#000" stroke-opacity="0.5" stroke-width="0.8"/>
<line x1="360.65" y1="453.68" x2="363.85" y2="453.68" stroke="#000" stroke-opacity="0.5" stroke-width="0.8"/>
<line x1="380.75" y1="485.48" x2="380.75" y2="524.48" stroke="#000" stroke-opacity="0.5" stroke-width="0.8"/>
<line x1="379.15" y1="485.48" x2="382.35" y2="485.48" stroke="#000" stroke-opacity="0.5" stroke-width="0.8"/>
<line x1="379.15" y1="524.48" x2="382.35" y2="524.48" stroke="#000" stroke-opacity="0.5" stroke-width="0.8"/>
<line x1="390.25" y1="525.3" x2="390.25" y2="564.6" stroke="#000" stroke-opacity="0.5" stroke-width="0.8"/>
<line x1="388.65" y1="525.3" x2="391.85" y2="525.3" stroke="#000" stroke-opacity="0.5" stroke-width="0.8"/>
<line x1="388.65" y1="564.6" x2="391.85" y2="564.6" stroke="#000" stroke-opacity="0.5" stroke-width="0.8"/>
<line x1="399.75" y1="507.6" x2="399.75" y2="544.27" stroke="#000" stroke-opacity="0.5" stroke-width="0.8"/>
<line x1="398.15" y1="507.6" x2="401.35" y2="507.6" stroke="#000" stroke-opacity="0.5" stroke-width="0.8"/>
<line x1="398.15" y1="544.27" x2="401.35" y2="544.27" stroke="#000" stroke-opacity="0.5" stroke-width="0.8"/>
<line x1="418.25" y1="411.3" x2="418.25" y2="441.52" stroke="#000" stroke-opacity="0.5" stroke-width="0.8"/>
<line x1="416.65" y1="411.3" x2="419.85" y2="411.3" stroke="#000" stroke-opacity="0.5" stroke-width="0.8"/>
<line x1="416.65" y1="441.52" x2="419.85" y2="441.52" stroke="#000" stroke-opacity="0.5" stroke-width="0.8"/>
<line x1="427.75" y1="433.43" x2="427.75" y2="452.4" stroke="#000" stroke-opacity="0.5" stroke-width="0.8"/>
<line x1="426.15" y1="433.43" x2="429.35" y2="433.43" stroke="#000" stroke-opacity="0.5" stroke-width="0.8"/>
<line x1="426.15" y1="452.4" x2="429.35" y2="452.4" stroke="#000" stroke-opacity="0.5" stroke-width="0.8"/>
<line x1="437.25" y1="432.38" x2="437.25" y2="467.48" stroke="#000" stroke-opacity="0.5" stroke-width="0.8"/>
<line x1="435.65" y1="432.38" x2="438.85" y2="432.38" stroke="#000" stroke-opacity="0.5" stroke-width="0.8"/>
<line x1="435.65" y1="467.48" x2="438.85" y2="467.48" stroke="#000" stroke-opacity="0.5" stroke-width="0.8"/>
<line x1="455.75" y1="434.25" x2="455.75" y2="440.25" stroke="#000" stroke-opacity="0.5" stroke-width="0.8"/>
<line x1="454.15" y1="434.25" x2="457.35" y2="434.25" stroke="#000" stroke-opacity="0.5" stroke-width="0.8"/>
<line x1="454.15" y1="440.25" x2="457.35" y2="440.25" stroke="#000" stroke-opacity="0.5" stroke-width="0.8"/>
<line x1="465.25" y1="451.58" x2="465.25" y2="458.4" stroke="#000" stroke-opacity="0.5" stroke-width="0.8"/>
<line x1="463.65" y1="451.58" x2="466.85" y2="451.58" stroke="#000" stroke-opacity="0.5" stroke-width="0.8"/>
<line x1="463.65" y1="458.4" x2="466.85" y2="458.4" stroke="#000" stroke-opacity="0.5" stroke-width="0.8"/>
<line x1="474.75" y1="435.52" x2="474.75" y2="442.8" stroke="#000" stroke-opacity="0.5" stroke-width="0.8"/>
<line x1="473.15" y1="435.52" x2="476.35" y2="435.52" stroke="#000" stroke-opacity="0.5" stroke-width="0.8"/>
<line x1="473.15" y1="442.8" x2="476.35" y2="442.8" stroke="#000" stroke-opacity="0.5" stroke-width="0.8"/>
<line x1="493.25" y1="602.1" x2="493.25" y2="611.02" stroke="#000" stroke-opacity="0.5" stroke-width="0.8"/>
<line x1="491.65" y1="602.1" x2="494.85" y2="602.1" stroke="#000" stroke-opacity="0.5" stroke-width="0.8"/>
<line x1="491.65" y1="611.02" x2="494.85" y2="611.02" stroke="#000" stroke-opacity="0.5" stroke-width="0.8"/>
<line x1="502.75" y1="606.75" x2="502.75" y2="609.38" stroke="#000" stroke-opacity="0.5" stroke-width="0.8"/>
<line x1="501.15" y1="606.75" x2="504.35" y2="606.75" stroke="#000" stroke-opacity="0.5" stroke-width="0.8"/>
<line x1="501.15" y1="609.38" x2="504.35" y2="609.38" stroke="#000" stroke-opacity="0.5" stroke-width="0.8"/>
<line x1="512.25" y1="606.38" x2="512.25" y2="614.7" stroke="#000" stroke-opacity="0.5" stroke-width="0.8"/>
<line x1="510.65" y1="606.38" x2="513.85" y2="606.38" stroke="#000" stroke-opacity="0.5" stroke-width="0.8"/>
<line x1="510.65" y1="614.7" x2="513.85" y2="614.7" stroke="#000" stroke-opacity="0.5" stroke-width="0.8"/>
<line x1="530.75" y1="576.08" x2="530.75" y2="595.73" stroke="#000" stroke-opacity="0.5" stroke-width="0.8"/>
<line x1="529.15" y1="576.08" x2="532.35" y2="576.08" stroke="#000" stroke-opacity="0.5" stroke-width="0.8"/>
<line x1="529.15" y1="595.73" x2="532.35" y2="595.73" stroke="#000" stroke-opacity="0.5" stroke-width="0.8"/>
<line x1="540.25" y1="576.08" x2="540.25" y2="591.3" stroke="#000" stroke-opacity="0.5" stroke-width="0.8"/>
<line x1="538.65" y1="576.08" x2="541.85" y2="576.08" stroke="#000" stroke-opacity="0.5" stroke-width="0.8"/>
<line x1="538.65" y1="591.3" x2="541.85" y2="591.3" stroke="#000" stroke-opacity="0.5" stroke-width="0.8"/>
<line x1="549.75" y1="583.2" x2="549.75" y2="605.62" stroke="#000" stroke-opacity="0.5" stroke-width="0.8"/>
<line x1="548.15" y1="583.2" x2="551.35" y2="583.2" stroke="#000" stroke-opacity="0.5" stroke-width="0.8"/>
<line x1="548.15" y1="605.62" x2="551.35" y2="605.62" stroke="#000" stroke-opacity="0.5" stroke-width="0.8"/>
<line x1="568.25" y1="574.8" x2="568.25" y2="590.48" stroke="#000" stroke-opacity="0.5" stroke-width="0.8"/>
<line x1="566.65" y1="574.8" x2="569.85" y2="574.8" stroke="#000" stroke-opacity="0.5" stroke-width="0.8"/>
<line x1="566.65" y1="590.48" x2="569.85" y2="590.48" stroke="#000" stroke-opacity="0.5" stroke-width="0.8"/>
<line x1="577.75" y1="575.62" x2="577.75" y2="600.9" stroke="#000" stroke-opacity="0.5" stroke-width="0.8"/>
<line x1="576.15" y1="575.62" x2="579.35" y2="575.62" stroke="#000" stroke-opacity="0.5" stroke-width="0.8"/>
<line x1="576.15" y1="600.9" x2="579.35" y2="600.9" stroke="#000" stroke-opacity="0.5" stroke-width="0.8"/>
<line x1="587.25" y1="585" x2="587.25" y2="600.9" stroke="#000" stroke-opacity="0.5" stroke-width="0.8"/>
<line x1="585.65" y1="585" x2="588.85" y2="585" stroke="#000" stroke-opacity="0.5" stroke-width="0.8"/>
<line x1="585.65" y1="600.9" x2="588.85" y2="600.9" stroke="#000" stroke-opacity="0.5" stroke-width="0.8"/>
<line x1="493.25" y1="420.28" x2="493.25" y2="480" stroke="#f2b2b2" stroke-width="0.8"/>
<line x1="491.65" y1="420.28" x2="494.85" y2="420.28" stroke="#f2b2b2" stroke-width="0.8"/>
<line x1="491.65" y1="480" x2="494.85" y2="480" stroke="#f2b2b2" stroke-width="0.8"/>
<line x1="502.75" y1="395.67" x2="502.75" y2="472.78" stroke="#f2b2b2" stroke-width="0.8"/>
<line x1="501.15" y1="395.67" x2="504.35" y2="395.67" stroke="#f2b2b2" stroke-width="0.8"/>
<line x1="501.15" y1="472.78" x2="504.35" y2="472.78" stroke="#f2b2b2" stroke-width="0.8"/>
<line x1="512.25" y1="373.69" x2="512.25" y2="417.26" stroke="#f2b2b2" stroke-width="0.8"/>
<line x1="510.65" y1="373.69" x2="513.85" y2="373.69" stroke="#f2b2b2" stroke-width="0.8"/>
<line x1="510.65" y1="417.26" x2="513.85" y2="417.26" stroke="#f2b2b2" stroke-width="0.8"/>
<line x1="530.75" y1="487.61" x2="530.75" y2="539.19" stroke="#f2b2b2" stroke-width="0.8"/>
<line x1="529.15" y1="487.61" x2="532.35" y2="487.61" stroke="#f2b2b2" stroke-width="0.8"/>
<line x1="529.15" y1="539.19" x2="532.35" y2="539.19" stroke="#f2b2b2" stroke-width="0.8"/>
<line x1="540.25" y1="467.01" x2="540.25" y2="529.28" stroke="#f2b2b2" stroke-width="0.8"/>
<line x1="538.65" y1="467.01" x2="541.85" y2="467.01" stroke="#f2b2b2" stroke-width="0.8"/>
<line x1="538.65" y1="529.28" x2="541.85" y2="529.28" stroke="#f2b2b2" stroke-width="0.8"/>
<line x1="549.75" y1="481.38" x2="549.75" y2="492.27" stroke="#f2b2b2" stroke-width="0.8"/>
<line x1="548.15" y1="481.38" x2="551.35" y2="481.38" stroke="#f2b2b2" stroke-width="0.8"/>
<line x1="548.15" y1="492.27" x2="551.35" y2="492.27" stroke="#f2b2b2" stroke-width="0.8"/>
<line x1="568.25" y1="460.31" x2="568.25" y2="508.42" stroke="#f2b2b2" stroke-width="0.8"/>
<line x1="566.65" y1="460.31" x2="569.85" y2="460.31" stroke="#f2b2b2" stroke-width="0.8"/>
<line x1="566.65" y1="508.42" x2="569.85" y2="508.42" stroke="#f2b2b2" stroke-width="0.8"/>
<line x1="577.75" y1="429.27" x2="577.75" y2="487.61" stroke="#f2b2b2" stroke-width="0.8"/>
<line x1="576.15" y1="429.27" x2="579.35" y2="429.27" stroke="#f2b2b2" stroke-width="0.8"/>
<line x1="576.15" y1="487.61" x2="579.35" y2="487.61" stroke="#f2b2b2" stroke-width="0.8"/>
<circle cx="118.25" cy="619.52" r="4.05" fill="#f03434"/>
<circle cx="127.75" cy="616.76" r="4.05" fill="#f03434"/>
<circle cx="137.25" cy="618.99" r="4.05" fill="#f03434"/>
<circle cx="268.25" cy="615.32" r="4.05" fill="#f03434"/>
<circle cx="277.75" cy="596.09" r="4.05" fill="#f03434"/>
<circle cx="287.25" cy="612.5" r="4.05" fill="#f03434"/>
<circle cx="305.75" cy="623.39" r="4.05" fill="#f03434"/>
<circle cx="315.25" cy="606.2" r="4.05" fill="#f03434"/>
<circle cx="324.75" cy="623.39" r="4.05" fill="#f03434"/>
<circle cx="343.25" cy="614.27" r="4.05" fill="#f03434"/>
<circle cx="352.75" cy="605.41" r="4.05" fill="#f03434"/>
<circle cx="362.25" cy="612.5" r="4.05" fill="#f03434"/>
<circle cx="380.75" cy="615.32" r="4.05" fill="#f03434"/>
<circle cx="390.25" cy="607.97" r="4.05" fill="#f03434"/>
<circle cx="399.75" cy="620.31" r="4.05" fill="#f03434"/>
<circle cx="418.25" cy="613.81" r="4.05" fill="#f03434"/>
<circle cx="427.75" cy="622.41" r="4.05" fill="#f03434"/>
<circle cx="437.25" cy="619.19" r="4.05" fill="#f03434"/>
<circle cx="455.75" cy="610.4" r="4.05" fill="#f03434"/>
<circle cx="465.25" cy="618.01" r="4.05" fill="#f03434"/>
<circle cx="474.75" cy="618.01" r="4.05" fill="#f03434"/>
<circle cx="493.25" cy="450.07" r="4.05" fill="#f03434"/>
<circle cx="502.75" cy="434.19" r="4.05" fill="#f03434"/>
<circle cx="512.25" cy="395.34" r="4.05" fill="#f03434"/>
<circle cx="530.75" cy="513.6" r="4.05" fill="#f03434"/>
<circle cx="540.25" cy="498.31" r="4.05" fill="#f03434"/>
<circle cx="549.75" cy="486.83" r="4.05" fill="#f03434"/>
<circle cx="568.25" cy="484.73" r="4.05" fill="#f03434"/>
<circle cx="577.75" cy="458.41" r="4.05" fill="#f03434"/>
<circle cx="587.25" cy="458.41" r="4.05" fill="#f03434"/>
<line x1="71.5" y1="364.5" x2="596.5" y2="364.5" stroke="#333" stroke-width="1.2"/>
<line x1="596.5" y1="363.9" x2="596.5" y2="627.6" stroke="#f04040" stroke-width="1.2"/>
<line x1="71.5" y1="363.9" x2="71.5" y2="627.6" stroke="#333" stroke-width="1.2"/>
<line x1="71.5" y1="627.0" x2="596.5" y2="627.0" stroke="#333" stroke-width="1.4"/>
<line x1="71.5" y1="627" x2="75.0" y2="627" stroke="#000" stroke-width="1.3"/>
<text x="67.6" y="631" text-anchor="end" font-size="13.5">0</text>
<line x1="71.5" y1="589.5" x2="75.0" y2="589.5" stroke="#000" stroke-width="1.3"/>
<text x="67.6" y="593.5" text-anchor="end" font-size="13.5">500</text>
<line x1="71.5" y1="552" x2="75.0" y2="552" stroke="#000" stroke-width="1.3"/>
<text x="67.6" y="556" text-anchor="end" font-size="13.5">1000</text>
<line x1="71.5" y1="514.5" x2="75.0" y2="514.5" stroke="#000" stroke-width="1.3"/>
<text x="67.6" y="518.5" text-anchor="end" font-size="13.5">1500</text>
<line x1="71.5" y1="477" x2="75.0" y2="477" stroke="#000" stroke-width="1.3"/>
<text x="67.6" y="481" text-anchor="end" font-size="13.5">2000</text>
<line x1="71.5" y1="439.5" x2="75.0" y2="439.5" stroke="#000" stroke-width="1.3"/>
<text x="67.6" y="443.5" text-anchor="end" font-size="13.5">2500</text>
<line x1="71.5" y1="402" x2="75.0" y2="402" stroke="#000" stroke-width="1.3"/>
<text x="67.6" y="406" text-anchor="end" font-size="13.5">3000</text>
<line x1="71.5" y1="364.5" x2="75.0" y2="364.5" stroke="#000" stroke-width="1.3"/>
<text x="67.6" y="368.5" text-anchor="end" font-size="13.5">3500</text>
<text x="601" y="631.5" font-size="13.5" fill="#f01818" color="#f01818">0</text>
<line x1="594.7" y1="610.59" x2="596.5" y2="610.59" stroke="#f04040" stroke-width="1"/>
<line x1="592.5" y1="594.19" x2="596.5" y2="594.19" stroke="#f04040" stroke-width="1"/>
<text x="601" y="598.69" font-size="13.5" fill="#f01818" color="#f01818">5</text>
<line x1="594.7" y1="577.78" x2="596.5" y2="577.78" stroke="#f04040" stroke-width="1"/>
<line x1="592.5" y1="561.38" x2="596.5" y2="561.38" stroke="#f04040" stroke-width="1"/>
<text x="601" y="565.88" font-size="13.5" fill="#f01818" color="#f01818">10</text>
<line x1="594.7" y1="544.97" x2="596.5" y2="544.97" stroke="#f04040" stroke-width="1"/>
<line x1="592.5" y1="528.56" x2="596.5" y2="528.56" stroke="#f04040" stroke-width="1"/>
<text x="601" y="533.06" font-size="13.5" fill="#f01818" color="#f01818">15</text>
<line x1="594.7" y1="512.16" x2="596.5" y2="512.16" stroke="#f04040" stroke-width="1"/>
<line x1="592.5" y1="495.75" x2="596.5" y2="495.75" stroke="#f04040" stroke-width="1"/>
<text x="601" y="500.25" font-size="13.5" fill="#f01818" color="#f01818">20</text>
<line x1="594.7" y1="479.34" x2="596.5" y2="479.34" stroke="#f04040" stroke-width="1"/>
<line x1="592.5" y1="462.94" x2="596.5" y2="462.94" stroke="#f04040" stroke-width="1"/>
<text x="601" y="467.44" font-size="13.5" fill="#f01818" color="#f01818">25</text>
<line x1="594.7" y1="446.53" x2="596.5" y2="446.53" stroke="#f04040" stroke-width="1"/>
<line x1="592.5" y1="430.12" x2="596.5" y2="430.12" stroke="#f04040" stroke-width="1"/>
<text x="601" y="434.62" font-size="13.5" fill="#f01818" color="#f01818">30</text>
<line x1="594.7" y1="413.72" x2="596.5" y2="413.72" stroke="#f04040" stroke-width="1"/>
<line x1="592.5" y1="397.31" x2="596.5" y2="397.31" stroke="#f04040" stroke-width="1"/>
<text x="601" y="401.81" font-size="13.5" fill="#f01818" color="#f01818">35</text>
<line x1="594.7" y1="380.91" x2="596.5" y2="380.91" stroke="#f04040" stroke-width="1"/>
<text x="601" y="369" font-size="13.5" fill="#f01818" color="#f01818">40</text>
<line x1="592.5" y1="364.5" x2="596.5" y2="364.5" stroke="#f04040" stroke-width="1.2"/>
<line x1="592.5" y1="627.0" x2="596.5" y2="627.0" stroke="#f04040" stroke-width="1.4"/>
<line x1="596.5" y1="363.9" x2="596.5" y2="627.7" stroke="#f04040" stroke-width="1.2"/>
<text transform="translate(638.5 495.7) rotate(-90)" text-anchor="middle" font-size="13.75" fill="#f01818" color="#f01818">Coulombic efficiency (%)</text>
<text x="110.6" y="380.1" text-anchor="middle" font-size="13.5">seed</text>
<text x="201.6" y="380.1" text-anchor="middle" font-size="13.5">Control</text>
<text x="315.1" y="380.1" text-anchor="middle" font-size="13.5">0 V</text>
<text x="423.6" y="380.1" text-anchor="middle" font-size="13.5">0.4 V</text>
<text x="546.1" y="380.1" text-anchor="middle" font-size="13.5">EtOH</text>
<text x="98.25" y="639.6" text-anchor="end" font-size="10.5" stroke-width="0.05" transform="rotate(-45 98.25 639.6)">seed-C</text>
<text x="135.75" y="639.6" text-anchor="end" font-size="10.5" stroke-width="0.05" transform="rotate(-45 135.75 639.6)">seed-E</text>
<text x="173.25" y="639.6" text-anchor="end" font-size="10.5" stroke-width="0.05" transform="rotate(-45 173.25 639.6)">Batch 1</text>
<text x="210.75" y="639.6" text-anchor="end" font-size="10.5" stroke-width="0.05" transform="rotate(-45 210.75 639.6)">Batch 2</text>
<text x="248.25" y="639.6" text-anchor="end" font-size="10.5" stroke-width="0.05" transform="rotate(-45 248.25 639.6)">Batch 3</text>
<text x="285.75" y="639.6" text-anchor="end" font-size="10.5" stroke-width="0.05" transform="rotate(-45 285.75 639.6)">Batch 1</text>
<text x="323.25" y="639.6" text-anchor="end" font-size="10.5" stroke-width="0.05" transform="rotate(-45 323.25 639.6)">Batch 2</text>
<text x="360.75" y="639.6" text-anchor="end" font-size="10.5" stroke-width="0.05" transform="rotate(-45 360.75 639.6)">Batch 3</text>
<text x="398.25" y="639.6" text-anchor="end" font-size="10.5" stroke-width="0.05" transform="rotate(-45 398.25 639.6)">Batch 1</text>
<text x="435.75" y="639.6" text-anchor="end" font-size="10.5" stroke-width="0.05" transform="rotate(-45 435.75 639.6)">Batch 2</text>
<text x="473.25" y="639.6" text-anchor="end" font-size="10.5" stroke-width="0.05" transform="rotate(-45 473.25 639.6)">Batch 3</text>
<text x="510.75" y="639.6" text-anchor="end" font-size="10.5" stroke-width="0.05" transform="rotate(-45 510.75 639.6)">Batch 1</text>
<text x="548.25" y="639.6" text-anchor="end" font-size="10.5" stroke-width="0.05" transform="rotate(-45 548.25 639.6)">Batch 2</text>
<text x="585.75" y="639.6" text-anchor="end" font-size="10.5" stroke-width="0.05" transform="rotate(-45 585.75 639.6)">Batch 3</text>
<text transform="translate(27 495.3) rotate(-90)" text-anchor="middle" font-size="13.6">COD removal (mg/L)</text>
<rect x="78" y="400" width="30" height="14.5" fill="#808080"/>
<circle cx="93" cy="427.75" r="4.05" fill="#f03434"/>
<text x="112" y="411.6" font-size="13.5">COD</text>
<text x="112" y="431.6" font-size="13.5">CE</text>
<text transform="translate(1.2 700.6) scale(1.0 1.05)" x="0" y="0" font-size="40" font-weight="bold" fill="#000">C</text>
<line x1="146.5" y1="724.0" x2="146.5" y2="986.25" stroke="#999" stroke-width="0.9"/>
<line x1="259.5" y1="724.0" x2="259.5" y2="986.25" stroke="#999" stroke-width="0.9"/>
<line x1="371.5" y1="724.0" x2="371.5" y2="986.25" stroke="#999" stroke-width="0.9"/>
<line x1="484.5" y1="724.0" x2="484.5" y2="986.25" stroke="#999" stroke-width="0.9"/>
<rect x="76" y="882.04" width="10" height="104.21" fill="#808080"/>
<rect x="76" y="894.51" width="10" height="91.74" fill="#c0ebbd"/>
<rect x="76" y="895" width="10" height="91.25" fill="#ffc4c4"/>
<rect x="76" y="957.51" width="10" height="28.74" fill="#ff9a9a"/>
<rect x="76" y="964.3" width="10" height="21.95" fill="#ff6666"/>
<rect x="86" y="857" width="9" height="129.25" fill="#808080"/>
<rect x="86" y="863.53" width="9" height="122.72" fill="#c0ebbd"/>
<rect x="86" y="864" width="9" height="122.25" fill="#ffc4c4"/>
<rect x="86" y="891.41" width="9" height="94.84" fill="#ff9a9a"/>
<rect x="86" y="899.7" width="9" height="86.55" fill="#ff6666"/>
<rect x="95" y="810.11" width="10" height="176.14" fill="#808080"/>
<rect x="95" y="848.96" width="10" height="137.29" fill="#c0ebbd"/>
<rect x="95" y="849.7" width="10" height="136.55" fill="#ffc4c4"/>
<rect x="95" y="883.01" width="10" height="103.24" fill="#ff9a9a"/>
<rect x="95" y="894.51" width="10" height="91.74" fill="#ff6666"/>
<rect x="114" y="774.2" width="9" height="212.05" fill="#808080"/>
<rect x="114" y="837.2" width="9" height="149.05" fill="#c0ebbd"/>
<rect x="114" y="837.99" width="9" height="148.26" fill="#ffc4c4"/>
<rect x="114" y="852.01" width="9" height="134.24" fill="#ff9a9a"/>
<rect x="114" y="862.22" width="9" height="124.03" fill="#ff6666"/>
<rect x="123" y="775.99" width="10" height="210.26" fill="#808080"/>
<rect x="123" y="846.6" width="10" height="139.65" fill="#c0ebbd"/>
<rect x="123" y="847.12" width="10" height="139.12" fill="#ffc4c4"/>
<rect x="123" y="863.79" width="10" height="122.46" fill="#ff9a9a"/>
<rect x="123" y="873.64" width="10" height="112.61" fill="#ff6666"/>
<rect x="133" y="801" width="9" height="185.25" fill="#808080"/>
<rect x="133" y="857.49" width="9" height="128.76" fill="#c0ebbd"/>
<rect x="133" y="857.99" width="9" height="128.26" fill="#ffc4c4"/>
<rect x="133" y="880.91" width="9" height="105.34" fill="#ff9a9a"/>
<rect x="133" y="886.68" width="9" height="99.57" fill="#ff6666"/>
<rect x="151" y="909" width="10" height="77.25" fill="#808080"/>
<rect x="151" y="918.52" width="10" height="67.73" fill="#c0ebbd"/>
<rect x="151" y="919.92" width="10" height="66.33" fill="#ffc4c4"/>
<rect x="151" y="921.2" width="10" height="65.05" fill="#ff9a9a"/>
<rect x="151" y="951.6" width="10" height="34.65" fill="#ff6666"/>
<rect x="161" y="873.3" width="9" height="112.95" fill="#808080"/>
<rect x="161" y="884.01" width="9" height="102.24" fill="#c0ebbd"/>
<rect x="161" y="885.11" width="9" height="101.14" fill="#ffc4c4"/>
<rect x="161" y="899.99" width="9" height="86.26" fill="#ff9a9a"/>
<rect x="161" y="928.71" width="9" height="57.54" fill="#ff6666"/>
<rect x="170" y="906.71" width="10" height="79.54" fill="#808080"/>
<rect x="170" y="914.69" width="10" height="71.56" fill="#c0ebbd"/>
<rect x="170" y="915.9" width="10" height="70.35" fill="#ffc4c4"/>
<rect x="170" y="919.92" width="10" height="66.33" fill="#ff9a9a"/>
<rect x="170" y="952.81" width="10" height="33.44" fill="#ff6666"/>
<rect x="189" y="922.46" width="9" height="63.79" fill="#808080"/>
<rect x="189" y="923.77" width="9" height="62.48" fill="#c0ebbd"/>
<rect x="189" y="924.83" width="9" height="61.42" fill="#ffc4c4"/>
<rect x="189" y="925.19" width="9" height="61.06" fill="#ff9a9a"/>
<rect x="189" y="949" width="9" height="37.25" fill="#ff6666"/>
<rect x="198" y="929.1" width="10" height="57.15" fill="#808080"/>
<rect x="198" y="931.65" width="10" height="54.6" fill="#c0ebbd"/>
<rect x="198" y="932.6" width="10" height="53.65" fill="#ff9a9a"/>
<rect x="198" y="956.9" width="10" height="29.35" fill="#ff6666"/>
<rect x="208" y="958.61" width="9" height="27.64" fill="#808080"/>
<rect x="208" y="962.62" width="9" height="23.62" fill="#c0ebbd"/>
<rect x="208" y="963.41" width="9" height="22.84" fill="#ff9a9a"/>
<rect x="208" y="983.62" width="9" height="2.62" fill="#ff6666"/>
<rect x="226" y="919.92" width="10" height="66.33" fill="#808080"/>
<rect x="226" y="941.7" width="10" height="44.55" fill="#c0ebbd"/>
<rect x="226" y="942.6" width="10" height="43.65" fill="#ff9a9a"/>
<rect x="226" y="959.5" width="10" height="26.75" fill="#ff6666"/>
<rect x="236" y="921.99" width="9" height="64.26" fill="#808080"/>
<rect x="236" y="945.43" width="9" height="40.82" fill="#c0ebbd"/>
<rect x="236" y="946.3" width="9" height="39.95" fill="#ff9a9a"/>
<rect x="236" y="961.81" width="9" height="24.44" fill="#ff6666"/>
<rect x="245" y="931.91" width="10" height="54.34" fill="#808080"/>
<rect x="245" y="955.41" width="10" height="30.84" fill="#c0ebbd"/>
<rect x="245" y="956.3" width="10" height="29.95" fill="#ff9a9a"/>
<rect x="245" y="969.9" width="10" height="16.35" fill="#ff6666"/>
<rect x="264" y="846.21" width="9" height="140.04" fill="#808080"/>
<rect x="264" y="849.41" width="9" height="136.84" fill="#c0ebbd"/>
<rect x="264" y="850.69" width="9" height="135.56" fill="#ffc4c4"/>
<rect x="264" y="882.69" width="9" height="103.56" fill="#ff9a9a"/>
<rect x="264" y="935.01" width="9" height="51.24" fill="#ff6666"/>
<rect x="273" y="886.61" width="10" height="99.64" fill="#808080"/>
<rect x="273" y="894.64" width="10" height="91.61" fill="#c0ebbd"/>
<rect x="273" y="896" width="10" height="90.25" fill="#ffc4c4"/>
<rect x="273" y="921.7" width="10" height="64.55" fill="#ff9a9a"/>
<rect x="273" y="963.41" width="10" height="22.84" fill="#ff6666"/>
<rect x="283" y="764.8" width="9" height="221.45" fill="#808080"/>
<rect x="283" y="775.99" width="9" height="210.26" fill="#c0ebbd"/>
<rect x="283" y="777.8" width="9" height="208.45" fill="#ffc4c4"/>
<rect x="283" y="794.2" width="9" height="192.05" fill="#ff9a9a"/>
<rect x="283" y="841.8" width="9" height="144.45" fill="#ff6666"/>
<rect x="301" y="942.49" width="10" height="43.76" fill="#808080"/>
<rect x="301" y="950.29" width="10" height="35.96" fill="#c0ebbd"/>
<rect x="301" y="951.1" width="10" height="35.15" fill="#ff9a9a"/>
<rect x="301" y="983.39" width="10" height="2.86" fill="#ff6666"/>
<rect x="311" y="941.81" width="9" height="44.44" fill="#808080"/>
<rect x="311" y="943.59" width="9" height="42.66" fill="#c0ebbd"/>
<rect x="311" y="944.41" width="9" height="41.84" fill="#ff9a9a"/>
<rect x="311" y="984.2" width="9" height="2.05" fill="#ff6666"/>
<rect x="320" y="942.99" width="10" height="43.26" fill="#808080"/>
<rect x="320" y="945.56" width="10" height="40.69" fill="#c0ebbd"/>
<rect x="320" y="946.4" width="10" height="39.85" fill="#ff9a9a"/>
<rect x="320" y="971.21" width="10" height="15.04" fill="#ff6666"/>
<rect x="339" y="913.12" width="9" height="73.13" fill="#808080"/>
<rect x="339" y="943.59" width="9" height="42.66" fill="#c0ebbd"/>
<rect x="339" y="944.41" width="9" height="41.84" fill="#ff9a9a"/>
<rect x="339" y="965.41" width="9" height="20.84" fill="#ff6666"/>
<rect x="348" y="901.41" width="10" height="84.84" fill="#808080"/>
<rect x="348" y="934.54" width="10" height="51.71" fill="#c0ebbd"/>
<rect x="348" y="935.3" width="10" height="50.95" fill="#ff9a9a"/>
<rect x="348" y="959.5" width="10" height="26.75" fill="#ff6666"/>
<rect x="358" y="900.1" width="9" height="86.15" fill="#808080"/>
<rect x="358" y="936.51" width="9" height="49.74" fill="#c0ebbd"/>
<rect x="358" y="937.29" width="9" height="48.96" fill="#ff9a9a"/>
<rect x="358" y="957.4" width="9" height="28.85" fill="#ff6666"/>
<rect x="376" y="904.01" width="10" height="82.24" fill="#808080"/>
<rect x="376" y="914.4" width="10" height="71.85" fill="#c0ebbd"/>
<rect x="376" y="916.42" width="10" height="69.83" fill="#ffc4c4"/>
<rect x="376" y="917" width="10" height="69.25" fill="#ff9a9a"/>
<rect x="376" y="966.69" width="10" height="19.56" fill="#ff6666"/>
<rect x="386" y="840.83" width="9" height="145.42" fill="#808080"/>
<rect x="386" y="852.69" width="9" height="133.56" fill="#c0ebbd"/>
<rect x="386" y="854" width="9" height="132.25" fill="#ffc4c4"/>
<rect x="386" y="875.61" width="9" height="110.64" fill="#ff9a9a"/>
<rect x="386" y="919.6" width="9" height="66.65" fill="#ff6666"/>
<rect x="395" y="845.02" width="10" height="141.23" fill="#808080"/>
<rect x="395" y="859.99" width="10" height="126.26" fill="#c0ebbd"/>
<rect x="395" y="861.3" width="10" height="124.95" fill="#ffc4c4"/>
<rect x="395" y="888.39" width="10" height="97.86" fill="#ff9a9a"/>
<rect x="395" y="928.71" width="10" height="57.54" fill="#ff6666"/>
<rect x="414" y="949" width="9" height="37.25" fill="#808080"/>
<rect x="414" y="951.6" width="9" height="34.65" fill="#c0ebbd"/>
<rect x="414" y="952.39" width="9" height="33.86" fill="#ff9a9a"/>
<rect x="414" y="976.9" width="9" height="9.35" fill="#ff6666"/>
<rect x="423" y="926.14" width="10" height="60.11" fill="#808080"/>
<rect x="423" y="932.57" width="10" height="53.68" fill="#c0ebbd"/>
<rect x="423" y="933.41" width="10" height="52.84" fill="#ff9a9a"/>
<rect x="423" y="962.1" width="10" height="24.15" fill="#ff6666"/>
<rect x="433" y="917" width="9" height="69.25" fill="#808080"/>
<rect x="433" y="936.51" width="9" height="49.74" fill="#c0ebbd"/>
<rect x="433" y="937.29" width="9" height="48.96" fill="#ff9a9a"/>
<rect x="433" y="960.79" width="9" height="25.46" fill="#ff6666"/>
<rect x="451" y="906.9" width="10" height="79.35" fill="#808080"/>
<rect x="451" y="937.82" width="10" height="48.43" fill="#c0ebbd"/>
<rect x="451" y="938.61" width="10" height="47.64" fill="#ff9a9a"/>
<rect x="451" y="962.1" width="10" height="24.15" fill="#ff6666"/>
<rect x="461" y="885.79" width="9" height="100.46" fill="#808080"/>
<rect x="461" y="920.1" width="9" height="66.15" fill="#c0ebbd"/>
<rect x="461" y="920.91" width="9" height="65.34" fill="#ff9a9a"/>
<rect x="461" y="945.9" width="9" height="40.35" fill="#ff6666"/>
<rect x="470" y="907.89" width="10" height="78.36" fill="#808080"/>
<rect x="470" y="938.61" width="10" height="47.64" fill="#c0ebbd"/>
<rect x="470" y="939.39" width="10" height="46.86" fill="#ff9a9a"/>
<rect x="470" y="953.7" width="10" height="32.55" fill="#ff6666"/>
<rect x="489" y="844.24" width="9" height="142.01" fill="#808080"/>
<rect x="489" y="849.41" width="9" height="136.84" fill="#c0ebbd"/>
<rect x="489" y="870.3" width="9" height="115.95" fill="#ff6666"/>
<rect x="498" y="841.61" width="10" height="144.64" fill="#808080"/>
<rect x="498" y="852.01" width="10" height="134.24" fill="#c0ebbd"/>
<rect x="498" y="875.71" width="10" height="110.54" fill="#ff6666"/>
<rect x="508" y="865.82" width="9" height="120.43" fill="#808080"/>
<rect x="508" y="874.19" width="9" height="112.06" fill="#c0ebbd"/>
<rect x="508" y="906.98" width="9" height="79.27" fill="#ff6666"/>
<rect x="526" y="861.4" width="10" height="124.85" fill="#808080"/>
<rect x="526" y="871.01" width="10" height="115.24" fill="#c0ebbd"/>
<rect x="526" y="881.99" width="10" height="104.26" fill="#ff6666"/>
<rect x="536" y="864.79" width="9" height="121.46" fill="#808080"/>
<rect x="536" y="879.41" width="9" height="106.84" fill="#c0ebbd"/>
<rect x="536" y="891.91" width="9" height="94.34" fill="#ff6666"/>
<rect x="545" y="862.69" width="10" height="123.56" fill="#808080"/>
<rect x="545" y="880.73" width="10" height="105.52" fill="#c0ebbd"/>
<rect x="545" y="898.39" width="10" height="87.86" fill="#ff6666"/>
<rect x="564" y="849.41" width="9" height="136.84" fill="#808080"/>
<rect x="564" y="867.1" width="9" height="119.15" fill="#c0ebbd"/>
<rect x="564" y="895.29" width="9" height="90.96" fill="#ff6666"/>
<rect x="573" y="853.11" width="10" height="133.14" fill="#808080"/>
<rect x="573" y="871.59" width="10" height="114.66" fill="#c0ebbd"/>
<rect x="573" y="906.71" width="10" height="79.54" fill="#ff6666"/>
<rect x="583" y="848.91" width="9" height="137.34" fill="#808080"/>
<rect x="583" y="868.44" width="9" height="117.81" fill="#c0ebbd"/>
<rect x="583" y="907.5" width="9" height="78.75" fill="#ff6666"/>
<line x1="71.5" y1="724.0" x2="596.5" y2="724.0" stroke="#888" stroke-width="1.2"/>
<line x1="596.5" y1="723.4" x2="596.5" y2="986.85" stroke="#444" stroke-width="1.2"/>
<line x1="71.5" y1="723.4" x2="71.5" y2="986.85" stroke="#333" stroke-width="1.2"/>
<line x1="71.5" y1="986.25" x2="596.5" y2="986.25" stroke="#222" stroke-width="1.4"/>
<line x1="71.5" y1="986.25" x2="75.0" y2="986.25" stroke="#000" stroke-width="1.3"/>
<line x1="593.0" y1="986.25" x2="596.5" y2="986.25" stroke="#000" stroke-width="1.3"/>
<text x="67.6" y="990.25" text-anchor="end" font-size="13.5">0</text>
<line x1="71.5" y1="933.75" x2="75.0" y2="933.75" stroke="#000" stroke-width="1.3"/>
<line x1="593.0" y1="933.75" x2="596.5" y2="933.75" stroke="#000" stroke-width="1.3"/>
<text x="67.6" y="937.75" text-anchor="end" font-size="13.5">200</text>
<line x1="71.5" y1="881.25" x2="75.0" y2="881.25" stroke="#000" stroke-width="1.3"/>
<line x1="593.0" y1="881.25" x2="596.5" y2="881.25" stroke="#000" stroke-width="1.3"/>
<text x="67.6" y="885.25" text-anchor="end" font-size="13.5">400</text>
<line x1="71.5" y1="828.75" x2="75.0" y2="828.75" stroke="#000" stroke-width="1.3"/>
<line x1="593.0" y1="828.75" x2="596.5" y2="828.75" stroke="#000" stroke-width="1.3"/>
<text x="67.6" y="832.75" text-anchor="end" font-size="13.5">600</text>
<line x1="71.5" y1="776.25" x2="75.0" y2="776.25" stroke="#000" stroke-width="1.3"/>
<line x1="593.0" y1="776.25" x2="596.5" y2="776.25" stroke="#000" stroke-width="1.3"/>
<text x="67.6" y="780.25" text-anchor="end" font-size="13.5">800</text>
<line x1="71.5" y1="723.75" x2="75.0" y2="723.75" stroke="#000" stroke-width="1.3"/>
<line x1="593.0" y1="723.75" x2="596.5" y2="723.75" stroke="#000" stroke-width="1.3"/>
<text x="67.6" y="727.75" text-anchor="end" font-size="13.5">1000</text>
<text x="110.6" y="739.6" text-anchor="middle" font-size="13.5">seed</text>
<text x="201.6" y="739.6" text-anchor="middle" font-size="13.5">Control</text>
<text x="315.1" y="739.6" text-anchor="middle" font-size="13.5">0 V</text>
<text x="423.6" y="739.6" text-anchor="middle" font-size="13.5">0.4 V</text>
<text x="546.1" y="739.6" text-anchor="middle" font-size="13.5">EtOH</text>
<text x="98.25" y="998.85" text-anchor="end" font-size="10.5" stroke-width="0.05" transform="rotate(-45 98.25 998.85)">seed-C</text>
<text x="135.75" y="998.85" text-anchor="end" font-size="10.5" stroke-width="0.05" transform="rotate(-45 135.75 998.85)">seed-E</text>
<text x="173.25" y="998.85" text-anchor="end" font-size="10.5" stroke-width="0.05" transform="rotate(-45 173.25 998.85)">Batch 1</text>
<text x="210.75" y="998.85" text-anchor="end" font-size="10.5" stroke-width="0.05" transform="rotate(-45 210.75 998.85)">Batch 2</text>
<text x="248.25" y="998.85" text-anchor="end" font-size="10.5" stroke-width="0.05" transform="rotate(-45 248.25 998.85)">Batch 3</text>
<text x="285.75" y="998.85" text-anchor="end" font-size="10.5" stroke-width="0.05" transform="rotate(-45 285.75 998.85)">Batch 1</text>
<text x="323.25" y="998.85" text-anchor="end" font-size="10.5" stroke-width="0.05" transform="rotate(-45 323.25 998.85)">Batch 2</text>
<text x="360.75" y="998.85" text-anchor="end" font-size="10.5" stroke-width="0.05" transform="rotate(-45 360.75 998.85)">Batch 3</text>
<text x="398.25" y="998.85" text-anchor="end" font-size="10.5" stroke-width="0.05" transform="rotate(-45 398.25 998.85)">Batch 1</text>
<text x="435.75" y="998.85" text-anchor="end" font-size="10.5" stroke-width="0.05" transform="rotate(-45 435.75 998.85)">Batch 2</text>
<text x="473.25" y="998.85" text-anchor="end" font-size="10.5" stroke-width="0.05" transform="rotate(-45 473.25 998.85)">Batch 3</text>
<text x="510.75" y="998.85" text-anchor="end" font-size="10.5" stroke-width="0.05" transform="rotate(-45 510.75 998.85)">Batch 1</text>
<text x="548.25" y="998.85" text-anchor="end" font-size="10.5" stroke-width="0.05" transform="rotate(-45 548.25 998.85)">Batch 2</text>
<text x="585.75" y="998.85" text-anchor="end" font-size="10.5" stroke-width="0.05" transform="rotate(-45 585.75 998.85)">Batch 3</text>
<text transform="translate(31 855) rotate(-90)" text-anchor="middle" font-size="13.7">Effluent TOC composition (mg/L)</text>
<rect x="494.3" y="748.5" width="24.5" height="12" fill="#808080"/>
<text x="522.5" y="758.5" font-size="11">Other</text>
<rect x="494.3" y="761.9" width="24.5" height="12" fill="#c0ebbd"/>
<text x="522.5" y="771.9" font-size="11">EtOH</text>
<rect x="494.3" y="775.1" width="24.5" height="12" fill="#ffc4c4"/>
<text x="522.5" y="785.1" font-size="11">Butyrate</text>
<rect x="494.3" y="788.9" width="24.5" height="12" fill="#ff9a9a"/>
<text x="522.5" y="798.9" font-size="11">Propionate</text>
<rect x="494.3" y="802.1" width="24.5" height="12" fill="#ff6666"/>
<text x="522.5" y="812.1" font-size="11">Acetate</text>
</g></svg>
</body></html>
